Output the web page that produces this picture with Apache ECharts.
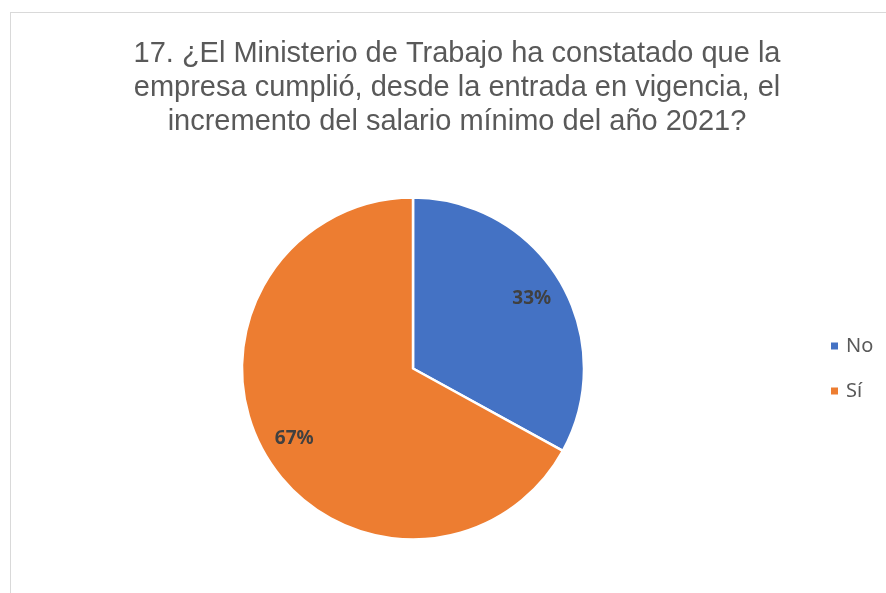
<!DOCTYPE html>
<html>
<head>
    <meta charset="utf-8">
    <title>Salario mínimo 2021</title>
    <script src="https://cdn.jsdelivr.net/npm/echarts@6/dist/echarts.min.js"></script>
    <style>
        body { margin: 0; background: #fff; }
        #main { width: 886px; height: 593px; }
        /* marco gris del gráfico (solo se ven los bordes izquierdo y superior) */
        #marco {
            position: absolute; left: 10px; top: 12px;
            width: 900px; height: 600px;
            border: 1px solid #d9d9d9; pointer-events: none;
        }
    </style>
</head>
<body>
<div id="marco"></div>
<div id="main"></div>

<script type="text/javascript">
    // datos del gráfico
    var categorias = ['No', 'Sí'];
    var porcentajes = [33, 67];
    var colores = ['#4472C4', '#ED7D31'];

    var titulo = '17. ¿El Ministerio de Trabajo ha constatado que la\n' +
        'empresa cumplió, desde la entrada en vigencia, el\n' +
        'incremento del salario mínimo del año 2021?';

    var datos = categorias.map(function (c, i) {
        return { name: c, value: porcentajes[i], itemStyle: { color: colores[i] } };
    });

    var myChart = echarts.init(document.getElementById('main'));

    myChart.setOption({
        animation: false,
        title: {
            text: titulo,
            left: 452,
            top: 32,
            textAlign: 'center',
            textStyle: {
                fontFamily: 'Liberation Sans, Arial, sans-serif',
                fontSize: 29,
                fontWeight: 'normal',
                lineHeight: 34,
                color: '#595959'
            }
        },
        legend: {
            orient: 'vertical',
            left: 824,
            top: 331,
            itemWidth: 9,
            itemHeight: 9,
            itemGap: 25,
            icon: 'rect',
            data: categorias,
            textStyle: {
                fontFamily: 'Noto Sans, sans-serif',
                fontSize: 20,
                color: '#595959',
                padding: [0, 0, 0, 2]
            }
        },
        series: [
            {
                name: 'respuestas',
                type: 'pie',
                center: [413, 368.5],
                radius: [0, 171],
                startAngle: 90,
                clockwise: true,
                label: { show: false },
                labelLine: { show: false },
                itemStyle: { borderColor: '#fff', borderWidth: 2.5 },
                emphasis: { disabled: true },
                data: datos
            },
            {
                // anillo invisible solo para poner las etiquetas más afuera
                name: 'etiquetas',
                type: 'pie',
                center: [413, 368.5],
                radius: [99, 171],
                startAngle: 90,
                clockwise: true,
                silent: true,
                itemStyle: { color: 'transparent' },
                emphasis: { disabled: true },
                label: {
                    show: true,
                    position: 'inside',
                    formatter: '{c}%',
                    fontFamily: 'Noto Sans, sans-serif',
                    fontWeight: 'bold',
                    fontSize: 19,
                    color: '#404040'
                },
                labelLine: { show: false },
                data: categorias.map(function (c, i) {
                    return { name: c, value: porcentajes[i] };
                })
            }
        ]
    });
</script>
</body>
</html>
